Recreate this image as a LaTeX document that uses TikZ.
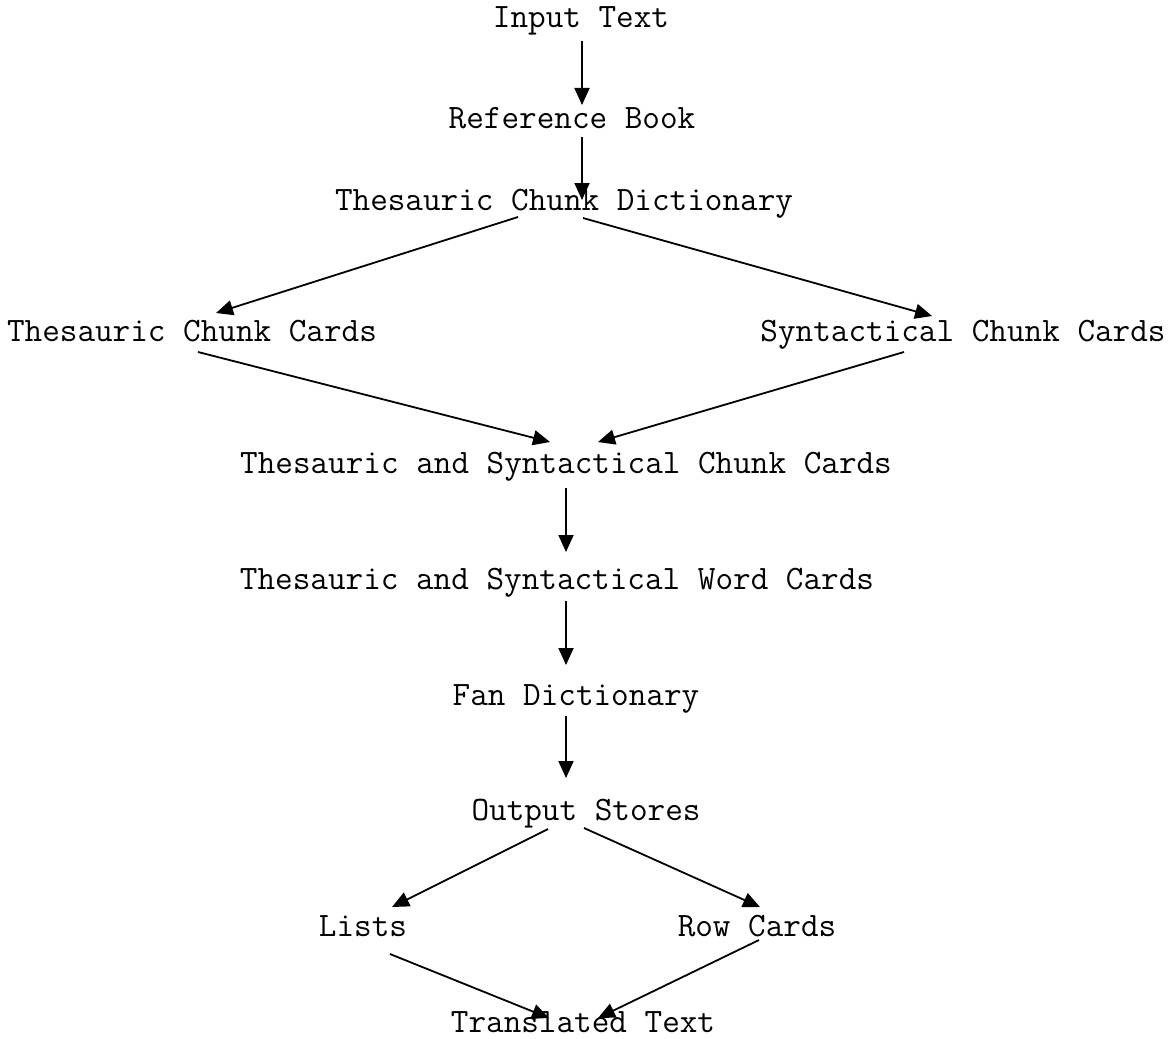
\documentclass[tikz,border=0pt]{standalone}
\usetikzlibrary{arrows.meta}
\begin{document}
\begin{tikzpicture}[x=0.5pt,y=-0.5pt,
  lbl/.style={anchor=base,inner sep=0pt,font=\ttfamily\fontsize{17.1}{18}\selectfont},
  arr/.style={-{Triangle[length=8.5pt,width=7.5pt]},line width=0.9pt}]
\useasboundingbox (0,0) rectangle (1170,1038);
\node[lbl] (in)    at (581,28)   {Input Text};
\node[lbl] (ref)   at (572,128)  {Reference Book};
\node[lbl] (tcd)   at (564,210)  {Thesauric Chunk Dictionary};
\node[lbl] (tcc)   at (192,341)  {Thesauric Chunk Cards};
\node[lbl] (scc)   at (963,341)  {Syntactical Chunk Cards};
\node[lbl] (tscc)  at (566,473)  {Thesauric and Syntactical Chunk Cards};
\node[lbl] (tswc)  at (557,589)  {Thesauric and Syntactical Word Cards};
\node[lbl] (fan)   at (576,705)  {Fan Dictionary};
\node[lbl] (out)   at (586,820)  {Output Stores};
\node[lbl] (lists) at (363,936)  {Lists};
\node[lbl] (row)   at (757,936)  {Row Cards};
\node[lbl] (tt)    at (583,1032) {Translated Text};

\draw[arr] ([shift={(1,13)}]in.base) -- ([shift={(10,-23)}]ref.base);
\draw[arr] ([shift={(10,9)}]ref.base) -- ([shift={(18,-10)}]tcd.base);
\draw[arr] ([shift={(-46,7)}]tcd.base) -- ([shift={(24,-28)}]tcc.base);
\draw[arr] ([shift={(19,8)}]tcd.base) -- ([shift={(-31,-25)}]scc.base);
\draw[arr] ([shift={(6,11)}]tcc.base) -- ([shift={(-16,-31)}]tscc.base);
\draw[arr] ([shift={(-59,11)}]scc.base) -- ([shift={(32,-31)}]tscc.base);
\draw[arr] ([shift={(0,15)}]tscc.base) -- ([shift={(9,-37)}]tswc.base);
\draw[arr] ([shift={(9,12)}]tswc.base) -- ([shift={(-10,-40)}]fan.base);
\draw[arr] ([shift={(-10,11)}]fan.base) -- ([shift={(-20,-42)}]out.base);
\draw[arr] ([shift={(-38,9)}]out.base) -- ([shift={(29,-29)}]lists.base);
\draw[arr] ([shift={(-2,8)}]out.base) -- ([shift={(3,-29)}]row.base);
\draw[arr] ([shift={(27,18)}]lists.base) -- ([shift={(-34,-14)}]tt.base);
\draw[arr] ([shift={(2,4)}]row.base) -- ([shift={(15,-14)}]tt.base);
\end{tikzpicture}
\end{document}
